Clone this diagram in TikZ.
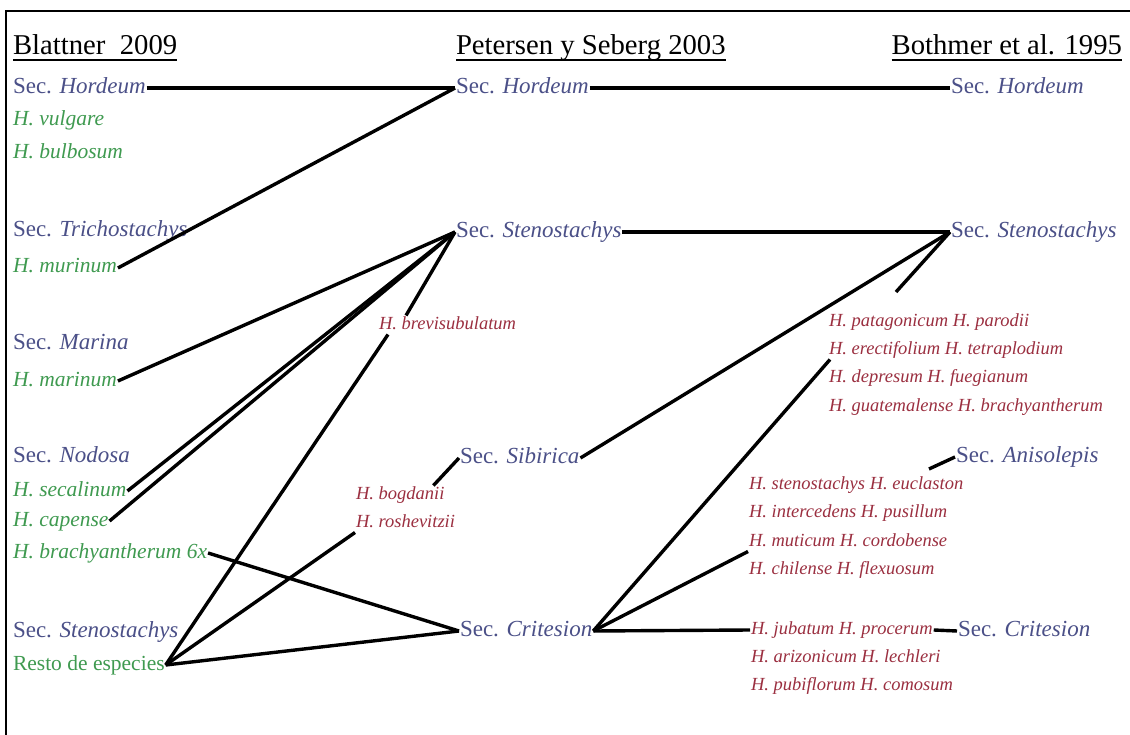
\documentclass[tikz,border=0pt]{standalone}
\usepackage{fontspec}
\setmainfont{Liberation Serif}
\definecolor{secblue}{HTML}{4B5088}
\definecolor{spgreen}{HTML}{3F9A50}
\definecolor{spred}{HTML}{9B2F40}
\begin{document}
\begin{tikzpicture}[x=1pt,y=-1pt,
  every node/.style={inner sep=1pt, outer sep=0pt},
  hdr/.style={font=\fontsize{28.7}{32}\selectfont, text=black, anchor=base west, inner sep=0pt},
  sec/.style={font=\fontsize{23}{27}\selectfont, text=secblue, anchor=west, text height=16.5pt, text depth=5pt},
  grn/.style={font=\fontsize{21.5}{25}\selectfont\itshape, text=spgreen, anchor=west, text height=15pt, text depth=5pt},
  grnup/.style={font=\fontsize{21.5}{25}\selectfont, text=spgreen, anchor=west, text height=15pt, text depth=5pt},
  redsp/.style={font=\fontsize{18.5}{22}\selectfont\itshape, text=spred, anchor=west, text height=13pt, text depth=4pt},
  conn/.style={line width=3.4pt, black},
  frame/.style={line width=1.5pt, black},
  uline/.style={line width=1.5pt, black}]
\fill[white] (0,0) rectangle (1130,735);
\useasboundingbox (0,0) rectangle (1130,735);
\draw[frame] (6,735) -- (6,11) -- (1130,11);

% headers
\node[hdr] (h1) at (13,55) {Blattner\ \ 2009};
\node[hdr] (h2) at (456,55) {Petersen y Seberg 2003};
\node[hdr, anchor=base east] (h3) at (1122,55) {Bothmer et al. 1995};
\foreach \h in {h1,h2,h3}
  \draw[uline] ([yshift=-5pt]\h.base west) -- ([yshift=-5pt]\h.base east);

% left column
\node[sec] (lhord) at (12,88) {Sec. \textit{Hordeum}};
\node[grn] (lvul) at (12,121) {H. vulgare};
\node[grn] (lbul) at (12,154) {H. bulbosum};
\node[sec] (ltri) at (12,231) {Sec. \textit{Trichostachys}};
\node[grn] (lmur) at (12,268) {H. murinum};
\node[sec] (lmar) at (12,344) {Sec. \textit{Marina}};
\node[grn] (lmarin) at (12,381) {H. marinum};
\node[sec] (lnod) at (12,457) {Sec. \textit{Nodosa}};
\node[grn] (lsec) at (12,491) {H. secalinum};
\node[grn] (lcap) at (12,521) {H. capense};
\node[grn] (lbra) at (12,553) {H. brachyantherum 6x};
\node[sec] (lste) at (12,632) {Sec. \textit{Stenostachys}};
\node[grnup] (lres) at (12,665) {Resto de especies};

% middle column
\node[sec] (mhord) at (455,88) {Sec. \textit{Hordeum}};
\node[sec] (mste) at (455,232) {Sec. \textit{Stenostachys}};
\node[redsp] (brev) at (378,325) {H. brevisubulatum};
\node[sec] (msib) at (459,458) {Sec. \textit{Sibirica}};
\node[redsp] (bog) at (355,495) {H. bogdanii};
\node[redsp] (rosh) at (355,523) {H. roshevitzii};
\node[sec] (mcri) at (459,631) {Sec. \textit{Critesion}};

% right column
\node[sec] (rhord) at (950,88) {Sec. \textit{Hordeum}};
\node[sec] (rste) at (950,232) {Sec. \textit{Stenostachys}};
\node[redsp] (p1) at (828,322) {H. patagonicum H. parodii};
\node[redsp] (p2) at (828,350) {H. erectifolium H. tetraplodium};
\node[redsp] (p3) at (828,378) {H. depresum H. fuegianum};
\node[redsp] (p4) at (828,407) {H. guatemalense H. brachyantherum};
\node[sec] (rani) at (955,457) {Sec. \textit{Anisolepis}};
\node[redsp] (s1) at (748,485) {H. stenostachys H. euclaston};
\node[redsp] (s2) at (748,513) {H. intercedens H. pusillum};
\node[redsp] (s3) at (748,542) {H. muticum H. cordobense};
\node[redsp] (s4) at (748,570) {H. chilense H. flexuosum};
\node[redsp] (j1) at (750,630) {H. jubatum H. procerum};
\node[redsp] (j2) at (750,658) {H. arizonicum H. lechleri};
\node[redsp] (j3) at (750,686) {H. pubiflorum H. comosum};
\node[sec] (rcri) at (957,631) {Sec. \textit{Critesion}};

\coordinate (stub1) at (896,292);
\coordinate (stub2) at (929,469);

% connectors
\draw[conn] (lhord.east) -- (mhord.west);
\draw[conn] (lmur.east) -- (mhord.west);
\draw[conn] (mhord.east) -- (rhord.west);
\draw[conn] (lmarin.east) -- (mste.west);
\draw[conn] (lsec.east) -- (mste.west);
\draw[conn] (lcap.east) -- (mste.west);
\draw[conn] ([xshift=28pt]brev.north west) -- (mste.west);
\draw[conn] (lres.east) -- ([xshift=10pt]brev.south west);
\draw[conn] (lres.east) -- (rosh.south west);
\draw[conn] (lres.east) -- (mcri.west);
\draw[conn] (lbra.east) -- (mcri.west);
\draw[conn] ([xshift=-12pt]bog.north east) -- (msib.west);
\draw[conn] (msib.east) -- (rste.west);
\draw[conn] (mste.east) -- (rste.west);
\draw[conn] (rste.west) -- (stub1);
\draw[conn] (mcri.east) -- ([xshift=2pt]p2.south west);
\draw[conn] (mcri.east) -- (s3.south west);
\draw[conn] (mcri.east) -- (j1.west);
\draw[conn] (j1.east) -- (rcri.west);
\draw[conn] (rani.west) -- (stub2);
\end{tikzpicture}
\end{document}
